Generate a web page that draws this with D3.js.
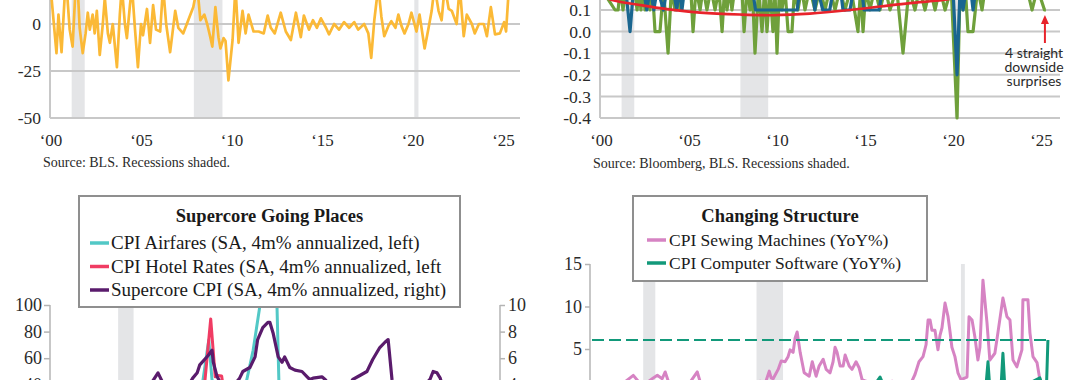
<!DOCTYPE html>
<html><head><meta charset="utf-8">
<script src="https://cdn.jsdelivr.net/npm/d3@7"></script>
<style>
html,body{margin:0;padding:0;background:#fff;}
svg{display:block;font-family:"Liberation Serif","Times New Roman",serif;}
</style></head><body>
<script>
// ================= DATA =================
const yearTicks = [2000, 2005, 2010, 2015, 2020, 2025];
const yearTickLabels = ["\u201800", "\u201805", "\u201810", "\u201815", "\u201820", "\u201825"];
const recessions = [[2001.17, 2001.89], [2007.92, 2009.5], [2020.1, 2020.33]];

// Panel 1 (top-left)
const p1Grid = [-50, -25, 0, 25];
const p1Ticks = [-50, -25, 0];
const p1TickLabels = ["-50", "-25", "0"];
const p1Series = [[2000.0,20],[2000.33,-15.5],[2000.44,5],[2000.61,-15],[2000.78,14],[2000.89,20],[2001.06,-3],[2001.22,-12],[2001.39,20],[2001.5,20],[2001.61,-2],[2001.78,-15.5],[2001.94,-5],[2002.06,6],[2002.17,-3],[2002.33,5],[2002.44,-5],[2002.56,7],[2002.72,-16.5],[2002.89,0],[2003.0,14],[2003.17,-5],[2003.28,-10],[2003.44,0],[2003.67,-23],[2003.83,5],[2003.94,20],[2004.11,0],[2004.22,-7.5],[2004.39,10],[2004.5,20],[2004.67,-3],[2004.83,-23],[2005.0,0],[2005.11,-6],[2005.33,8],[2005.5,-10],[2005.67,10],[2005.83,-3],[2006.06,-4],[2006.22,20],[2006.39,0],[2006.61,-15],[2006.89,7],[2007.06,-2],[2007.33,-5],[2007.61,2],[2007.89,9],[2008.11,20],[2008.28,2],[2008.5,5],[2008.67,-0.5],[2008.83,-7],[2008.94,-12],[2009.11,9],[2009.28,-7],[2009.39,-13],[2009.56,-7.5],[2009.67,-9],[2009.83,-30],[2010.06,-8.5],[2010.22,20],[2010.39,-10],[2010.61,7],[2010.78,-5],[2010.94,5],[2011.22,-4],[2011.5,-4],[2011.78,-5],[2012.0,4.5],[2012.17,-2],[2012.39,-5],[2012.72,6],[2013.0,-4],[2013.28,-8.5],[2013.56,6],[2013.83,-7],[2014.0,4.5],[2014.28,-3],[2014.5,2],[2014.72,-2],[2014.94,3],[2015.22,-2],[2015.39,-5.5],[2015.67,0],[2015.94,-3],[2016.22,1],[2016.5,-2],[2016.78,1],[2017.0,-3],[2017.33,0],[2017.56,-5],[2017.72,-18],[2017.89,2],[2018.11,20],[2018.28,4],[2018.44,-6.5],[2018.67,-1],[2018.83,1.5],[2019.06,-2],[2019.22,5],[2019.39,-1],[2019.56,-5],[2019.78,0],[2019.94,6],[2020.22,-4],[2020.39,5],[2020.67,-13],[2020.89,-2],[2021.06,7],[2021.22,20],[2021.44,7],[2021.61,2],[2021.78,20],[2022.0,8],[2022.17,7],[2022.44,0],[2022.61,20],[2022.83,-6.5],[2023.0,5],[2023.28,0],[2023.44,-5],[2023.67,0],[2023.94,0],[2024.11,-6.5],[2024.33,9],[2024.56,-5.5],[2024.83,-5],[2025.06,1],[2025.17,-4],[2025.33,20]];

// Panel 2 (top-right)
const p2Grid = [-0.4, -0.3, -0.2, -0.1, 0, 0.1, 0.2];
const p2Ticks = [-0.4, -0.3, -0.2, -0.1, 0, 0.1];
const p2TickLabels = ["-0.4", "-0.3", "-0.2", "-0.1", "0.0", "0.1"];
const headlineSurprise = [[2000.0,0.2],[2000.8,0.1],[2000.97,0.1],[2001.1,0.2],[2001.25,0.1],[2001.4,0.2],[2001.9,0.2],[2002.05,0.1],[2002.16,0.2],[2002.27,0.1],[2002.38,0.2],[2002.5,0.1],[2002.64,0.2],[2002.78,0.1],[2002.92,0.2],[2003.07,0.0],[2003.35,0.0],[2003.55,0.2],[2003.81,-0.1],[2004.0,0.2],[2004.2,0.1],[2004.35,0.2],[2004.49,0.1],[2004.65,0.2],[2005.1,0.2],[2005.23,0.0],[2005.4,0.2],[2005.63,0.1],[2005.8,0.2],[2006.02,0.1],[2006.25,0.2],[2006.48,0.1],[2006.7,0.2],[2006.88,0.0],[2007.02,0.2],[2007.16,0.1],[2007.3,0.2],[2007.44,0.1],[2007.6,0.2],[2008.0,0.2],[2008.13,0.0],[2008.3,0.2],[2008.47,0.1],[2008.6,0.2],[2008.75,-0.1],[2008.95,0.2],[2009.15,0.0],[2009.3,0.2],[2009.43,0.0],[2009.6,0.2],[2009.77,0.0],[2009.88,0.2],[2010.0,-0.1],[2010.14,0.2],[2010.28,0.1],[2010.45,0.2],[2010.63,0.0],[2010.85,0.0],[2011.0,0.2],[2011.19,0.1],[2011.4,0.2],[2011.59,0.1],[2011.85,0.2],[2012.16,0.1],[2012.45,0.2],[2012.73,0.1],[2013.0,0.2],[2013.3,0.1],[2013.58,0.2],[2013.86,0.1],[2014.2,0.2],[2014.6,0.0],[2014.75,0.2],[2014.89,0.0],[2015.05,0.2],[2015.28,0.1],[2015.55,0.2],[2015.85,0.1],[2016.15,0.2],[2016.42,0.1],[2016.8,0.2],[2017.16,-0.1],[2017.5,0.2],[2017.84,0.1],[2018.1,0.2],[2018.41,0.1],[2018.7,0.2],[2018.98,0.1],[2019.25,0.2],[2019.55,0.1],[2019.9,0.2],[2020.23,-0.4],[2020.4,0.2],[2020.57,0.1],[2020.7,0.2],[2020.85,0.0],[2021.14,0.0],[2021.4,0.2],[2021.65,0.1],[2022.0,0.3],[2023.0,0.3],[2024.2,0.2],[2024.49,0.1],[2024.8,0.2],[2025.2,0.1],[2025.28,0.1]];
const coreSurprise = [[2000.0,0.2],[2001.4,0.2],[2001.65,0.0],[2001.85,0.2],[2002.4,0.2],[2002.6,0.1],[2002.8,0.2],[2003.0,0.1],[2003.2,0.2],[2003.55,0.1],[2003.75,0.2],[2004.1,0.2],[2004.3,0.1],[2004.45,0.2],[2004.6,0.1],[2004.75,0.2],[2008.6,0.2],[2008.78,0.1],[2011.15,0.1],[2011.3,0.2],[2012.0,0.2],[2012.15,0.1],[2012.3,0.2],[2012.6,0.1],[2013.0,0.1],[2013.2,0.2],[2013.6,0.2],[2013.75,0.1],[2014.15,0.1],[2014.35,0.2],[2014.8,0.2],[2014.95,0.1],[2015.8,0.1],[2016.0,0.2],[2020.0,0.2],[2020.23,-0.2],[2020.4,0.2],[2020.57,0.1],[2020.75,0.2],[2021.0,0.2],[2021.14,0.1],[2021.3,0.2],[2025.3,0.2]];
const surpriseTrend = [[2000.0,0.17],[2000.63,0.146],[2002.22,0.123],[2003.75,0.104],[2005.63,0.088],[2007.9,0.079],[2009.77,0.076],[2011.87,0.083],[2014.15,0.1],[2015.85,0.116],[2017.56,0.132],[2019.43,0.146],[2020.3,0.16]];
const annotationLines = ["4 straight", "downside", "surprises"];

// Panel 3 (bottom-left)
const p3LeftTicks = [40, 60, 80, 100];
const p3RightTicks = [4, 6, 8, 10];
const p3Title = "Supercore Going Places";
const p3Legend = ["CPI Airfares (SA, 4m% annualized, left)", "CPI Hotel Rates (SA, 4m% annualized, left", "Supercore CPI (SA, 4m% annualized, right)"];
const covidRecession = [[2020.06, 2020.3]];
const airfares = [[2019.0,2],[2019.4,8],[2019.8,-5],[2020.1,-20],[2020.3,-90],[2020.6,-30],[2020.9,5],[2021.2,20],[2021.38,43.6],[2021.47,73.7],[2021.52,43.6],[2021.57,28],[2021.8,0],[2022.0,15],[2022.06,43.6],[2022.16,66],[2022.27,101],[2022.34,134],[2022.45,134],[2022.53,101],[2022.56,43.6],[2022.61,13],[2022.9,-10],[2023.3,-15],[2023.8,5],[2024.3,10],[2024.8,-5],[2025.3,5]];
const hotelRates = [[2019.0,5],[2019.5,10],[2019.9,0],[2020.2,-60],[2020.5,20],[2020.9,10],[2021.2,25],[2021.41,43],[2021.5,89.5],[2021.57,46],[2021.61,47],[2021.67,46.6],[2021.72,30],[2021.9,10],[2022.2,25],[2022.5,15],[2023.0,5],[2023.5,10],[2024.0,8],[2024.5,5],[2025.0,10],[2025.3,0]];
const supercore = [[2019.0,3.0],[2019.5,3.3],[2019.9,3.5],[2020.1,2.5],[2020.3,-3],[2020.45,1.0],[2020.56,4.0],[2020.68,4.9],[2020.79,3.8],[2020.94,2.8],[2021.1,3.5],[2021.22,4.5],[2021.29,4.9],[2021.33,5.5],[2021.46,6.2],[2021.52,6.6],[2021.54,5.7],[2021.6,4.6],[2021.67,4.0],[2021.8,3.6],[2021.95,4.5],[2022.0,5.0],[2022.11,5.3],[2022.19,6.1],[2022.23,7.4],[2022.31,8.3],[2022.39,8.7],[2022.42,8.7],[2022.47,7.9],[2022.55,6.1],[2022.61,5.7],[2022.65,6.1],[2022.73,5.3],[2022.81,5.1],[2022.92,5.0],[2023.0,4.6],[2023.04,4.4],[2023.09,4.5],[2023.23,4.6],[2023.28,4.4],[2023.43,3.5],[2023.59,3.5],[2023.71,4.4],[2023.82,4.7],[2023.93,5.0],[2024.02,5.9],[2024.13,6.8],[2024.21,7.2],[2024.26,7.4],[2024.32,4.4],[2024.38,2.9],[2024.6,2.9],[2024.83,4.0],[2024.91,4.4],[2024.96,5.0],[2025.02,4.9],[2025.07,4.5],[2025.15,3.2],[2025.3,2.9]];

// Panel 4 (bottom-right)
const p4Ticks = [5, 10, 15];
const p4Title = "Changing Structure";
const p4Legend = ["CPI Sewing Machines (YoY%)", "CPI Computer Software (YoY%)"];
const sewingMachines = [[1998.0,0.3],[1999.0,0.8],[2000.0,1.0],[2000.58,1.9],[2001.0,0.9],[2001.5,1.2],[2001.77,1.6],[2002.01,1.9],[2002.3,1.5],[2002.48,2.3],[2002.7,1.0],[2003.37,0.8],[2004.0,1.2],[2004.39,2.3],[2004.6,0.9],[2005.16,0.5],[2006.0,0.3],[2006.95,0.6],[2008.14,1.2],[2008.38,0.6],[2008.68,2.4],[2008.79,1.6],[2008.91,1.5],[2009.21,2.6],[2009.39,3.6],[2009.62,3.5],[2009.8,4.1],[2009.92,4.9],[2010.1,4.6],[2010.22,6.3],[2010.34,7.0],[2010.52,4.6],[2010.76,2.2],[2011.06,1.8],[2011.24,3.5],[2011.47,1.8],[2011.65,3.0],[2011.89,3.8],[2012.07,2.6],[2012.3,2.2],[2012.48,3.5],[2012.6,5.2],[2012.72,4.6],[2012.9,3.0],[2013.08,3.0],[2013.2,4.3],[2013.44,3.0],[2013.61,2.6],[2013.85,3.5],[2014.03,2.8],[2014.21,1.4],[2014.45,1.2],[2015.28,0.9],[2015.58,1.0],[2016.0,1.2],[2016.59,1.0],[2017.01,0.5],[2017.36,2.0],[2017.6,3.5],[2017.84,4.1],[2018.02,5.5],[2018.14,8.4],[2018.26,8.4],[2018.37,7.2],[2018.55,7.2],[2018.73,4.9],[2018.85,6.6],[2018.97,7.5],[2019.15,10.4],[2019.33,8.8],[2019.45,7.0],[2019.56,5.2],[2019.74,4.1],[2019.92,2.2],[2020.1,1.4],[2020.46,1.7],[2020.58,8.8],[2020.76,8.4],[2020.93,6.4],[2021.11,3.7],[2021.23,5.2],[2021.41,13.1],[2021.65,8.1],[2021.82,3.7],[2022.12,4.5],[2022.3,6.9],[2022.6,11.0],[2022.84,8.8],[2023.02,8.4],[2023.2,3.7],[2023.43,2.9],[2023.73,4.9],[2023.79,10.8],[2024.03,10.8],[2024.09,10.8],[2024.21,6.9],[2024.39,4.1],[2024.63,3.4],[2024.8,1.4],[2025.0,0.6],[2025.3,0.5]];
const computerSoftware = [[1998.0,0.3],[2003.0,0.5],[2008.0,0.7],[2012.0,0.8],[2015.0,0.9],[2015.28,1.7],[2015.45,0.9],[2018.0,0.7],[2020.0,0.5],[2021.6,0.9],[2021.71,3.5],[2021.8,0.9],[2022.5,1.0],[2022.6,4.5],[2022.7,1.0],[2024.0,0.8],[2024.8,1.6],[2024.95,0.7],[2025.2,0.9],[2025.28,6.06]];

// ================= DRAW =================
const svg = d3.select("body").append("svg").attr("width", 1080).attr("height", 380);
const GRID = "#c8c8c8", AXIS = "#b4b4b4", TXT = "#2a2a2a", SHADE = "#e4e5e7";

function styleAxis(g, size) {
  g.attr("font-family", null).attr("font-size", null);
  g.selectAll("text").attr("font-size", size).attr("fill", TXT);
  g.selectAll(".tick line").attr("stroke", AXIS).attr("stroke-width", 1.5);
  g.select(".domain").attr("stroke", AXIS).attr("stroke-width", 1.5);
}
const lineGen = (x, y) => d3.line().x(d => x(d[0])).y(d => y(d[1]));

// ---------- Panel 1 ----------
{
  const x = d3.scaleLinear().domain([2000, 2025.94]).range([50.5, 520]);
  const y = d3.scaleLinear().domain([-50, 25]).range([118, -23]);
  const g = svg.append("g");
  g.selectAll("rect.rec").data(recessions).join("rect")
    .attr("x", d => x(d[0])).attr("width", d => x(d[1]) - x(d[0]))
    .attr("y", y(25)).attr("height", y(-50) - y(25)).attr("fill", SHADE);
  g.selectAll("line.grid").data(p1Grid).join("line")
    .attr("x1", x.range()[0] - 0.5).attr("x2", x.range()[1])
    .attr("y1", d => y(d)).attr("y2", d => y(d)).attr("stroke", GRID).attr("stroke-width", 2);
  g.append("line").attr("x1", 50).attr("x2", 50).attr("y1", y(25)).attr("y2", y(-50))
    .attr("stroke", GRID).attr("stroke-width", 2);
  g.append("path").datum(p1Series).attr("d", lineGen(x, y)).attr("fill", "none")
    .attr("stroke", "#fbb936").attr("stroke-width", 2.7).attr("stroke-linejoin", "round");
  const ya = g.append("g").attr("transform", "translate(50,0)")
    .call(d3.axisLeft(y).tickValues(p1Ticks).tickFormat((d, i) => p1TickLabels[i]).tickSize(0).tickPadding(9));
  ya.select(".domain").remove(); styleAxis(ya, 17.5);
  const xa = g.append("g").attr("transform", `translate(0,${y(-50)})`)
    .call(d3.axisBottom(x).tickValues(yearTicks).tickFormat((d, i) => yearTickLabels[i]).tickSize(0).tickPadding(16));
  xa.select(".domain").remove(); styleAxis(xa, 17);
  g.append("text").attr("x", 43).attr("y", 167).attr("font-size", 14).attr("fill", TXT)
    .text("Source: BLS. Recessions shaded.");
}

// ---------- Panel 2 ----------
{
  const x = d3.scaleLinear().domain([2000, 2026.08]).range([601, 1060]);
  const y = d3.scaleLinear().domain([-0.4, 0.2]).range([118, -11.6]);
  const g = svg.append("g");
  g.selectAll("rect.rec").data(recessions).join("rect")
    .attr("x", d => x(d[0])).attr("width", d => x(d[1]) - x(d[0]))
    .attr("y", y(0.2)).attr("height", y(-0.4) - y(0.2)).attr("fill", SHADE);
  g.selectAll("line.grid").data(p2Grid).join("line")
    .attr("x1", 600).attr("x2", x.range()[1])
    .attr("y1", d => y(d)).attr("y2", d => y(d)).attr("stroke", GRID).attr("stroke-width", 2);
  g.append("line").attr("x1", 600).attr("x2", 600).attr("y1", y(0.2)).attr("y2", y(-0.4))
    .attr("stroke", GRID).attr("stroke-width", 2);
  g.append("path").datum(headlineSurprise).attr("d", lineGen(x, y)).attr("fill", "none")
    .attr("stroke", "#6fa03b").attr("stroke-width", 3.2).attr("stroke-linejoin", "round");
  g.append("path").datum(coreSurprise).attr("d", lineGen(x, y)).attr("fill", "none")
    .attr("stroke", "#1a6690").attr("stroke-width", 3.2).attr("stroke-linejoin", "round");
  g.append("path").datum(surpriseTrend).attr("d", lineGen(x, y).curve(d3.curveCatmullRom)).attr("fill", "none")
    .attr("stroke", "#e8232b").attr("stroke-width", 2.6);
  const ya = g.append("g").attr("transform", "translate(600,0)")
    .call(d3.axisLeft(y).tickValues(p2Ticks).tickFormat((d, i) => p2TickLabels[i]).tickSize(0).tickPadding(9));
  ya.select(".domain").remove(); styleAxis(ya, 17.5);
  const xa = g.append("g").attr("transform", `translate(0,${y(-0.4)})`)
    .call(d3.axisBottom(x).tickValues(yearTicks).tickFormat((d, i) => yearTickLabels[i]).tickSize(0).tickPadding(16));
  xa.select(".domain").remove(); styleAxis(xa, 17);
  g.append("text").attr("x", 593).attr("y", 168).attr("font-size", 14).attr("fill", TXT)
    .text("Source: Bloomberg, BLS. Recessions shaded.");
  // annotation
  const last = headlineSurprise[headlineSurprise.length - 1];
  const ax = x(last[0]) - 1;
  g.append("line").attr("x1", ax).attr("x2", ax).attr("y1", 43).attr("y2", 22)
    .attr("stroke", "#e8232b").attr("stroke-width", 2);
  g.append("path").attr("d", `M${ax},15L${ax - 4},24L${ax + 4},24Z`).attr("fill", "#e8232b");
  const ann = g.append("text").attr("text-anchor", "middle")
    .attr("font-family", "Lato, 'Open Sans', sans-serif").attr("font-size", 14).attr("fill", TXT);
  ann.selectAll("tspan").data(annotationLines).join("tspan")
    .attr("x", 1034).attr("y", (d, i) => 58 + i * 14).text(d => d);
}

function legendBox(g, x0, y0, w, h, title, entries, colors, cx, titleY, entryYs, swX, txX, fs) {
  g.append("rect").attr("x", x0).attr("y", y0).attr("width", w).attr("height", h)
    .attr("fill", "#fff").attr("stroke", "#8f8f8f").attr("stroke-width", 2);
  g.append("text").attr("x", cx).attr("y", titleY).attr("text-anchor", "middle")
    .attr("font-weight", "bold").attr("font-size", 18.5).attr("fill", "#1a1a1a").text(title);
  entries.forEach((t, i) => {
    g.append("line").attr("x1", swX).attr("x2", swX + 19).attr("y1", entryYs[i]).attr("y2", entryYs[i])
      .attr("stroke", colors[i]).attr("stroke-width", 3.5);
    g.append("text").attr("x", txX).attr("y", entryYs[i] + 6).attr("font-size", fs).attr("fill", "#1a1a1a").text(t);
  });
}

// ---------- Panel 3 ----------
{
  const x = d3.scaleLinear().domain([2019, 2026]).range([50, 500]);
  const yL = d3.scaleLinear().domain([0, 100]).range([438, 305]);
  const yR = d3.scaleLinear().domain([0, 10]).range([438, 305]);
  const g = svg.append("g");
  const colors = ["#52c8c6", "#f03c63", "#5a1b6c"];
  g.selectAll("rect.rec").data(covidRecession).join("rect")
    .attr("x", d => x(d[0])).attr("width", d => x(d[1]) - x(d[0]))
    .attr("y", yL(100)).attr("height", yL(0) - yL(100)).attr("fill", SHADE);
  g.append("path").datum(airfares).attr("d", lineGen(x, yL)).attr("fill", "none")
    .attr("stroke", colors[0]).attr("stroke-width", 3).attr("stroke-linejoin", "round");
  g.append("path").datum(hotelRates).attr("d", lineGen(x, yL)).attr("fill", "none")
    .attr("stroke", colors[1]).attr("stroke-width", 3).attr("stroke-linejoin", "round");
  g.append("path").datum(supercore).attr("d", lineGen(x, yR)).attr("fill", "none")
    .attr("stroke", colors[2]).attr("stroke-width", 3.2).attr("stroke-linejoin", "round");
  const la = g.append("g").attr("transform", "translate(50,0)")
    .call(d3.axisLeft(yL).tickValues(p3LeftTicks).tickSize(6).tickSizeOuter(0).tickPadding(2));
  la.select(".domain").attr("d", `M0,${yL(100)}V${yL(0)}`);
  styleAxis(la, 18);
  const ra = g.append("g").attr("transform", "translate(500,0)")
    .call(d3.axisRight(yR).tickValues(p3RightTicks).tickSize(5).tickSizeOuter(0).tickPadding(3));
  ra.select(".domain").attr("d", `M0,${yR(10)}V${yR(0)}`);
  styleAxis(ra, 18);
  legendBox(g, 79, 196, 381, 111, p3Title, p3Legend, colors, 269.5, 222, [243, 266.5, 290], 90, 111, 19);
}

// ---------- Panel 4 ----------
{
  const x = d3.scaleLinear().domain([1998, 2026]).range([590, 1060]);
  const y = d3.scaleLinear().domain([0, 15]).range([391.5, 264]);
  const g = svg.append("g");
  const colors = ["#d683c3", "#12997a"];
  g.selectAll("rect.rec").data(recessions).join("rect")
    .attr("x", d => x(d[0])).attr("width", d => x(d[1]) - x(d[0]))
    .attr("y", y(15)).attr("height", y(0) - y(15)).attr("fill", SHADE);
  g.append("path").datum(sewingMachines).attr("d", lineGen(x, y)).attr("fill", "none")
    .attr("stroke", colors[0]).attr("stroke-width", 3).attr("stroke-linejoin", "round");
  g.append("path").datum(computerSoftware).attr("d", lineGen(x, y)).attr("fill", "none")
    .attr("stroke", colors[1]).attr("stroke-width", 3).attr("stroke-linejoin", "round");
  const lastSw = computerSoftware[computerSoftware.length - 1];
  g.append("line").attr("x1", x(1998) + 2).attr("x2", x(lastSw[0])).attr("y1", y(lastSw[1])).attr("y2", y(lastSw[1]))
    .attr("stroke", colors[1]).attr("stroke-width", 2).attr("stroke-dasharray", "12,5");
  const a = g.append("g").attr("transform", "translate(590,0)")
    .call(d3.axisLeft(y).tickValues(p4Ticks).tickSize(5).tickSizeOuter(0).tickPadding(3));
  a.select(".domain").attr("d", `M0,${y(15)}V${y(0)}`);
  styleAxis(a, 18);
  legendBox(g, 633, 196, 294, 85, p4Title, p4Legend, colors, 780, 222, [240, 263], 647, 669, 17.5);
}
</script>
</body></html>
